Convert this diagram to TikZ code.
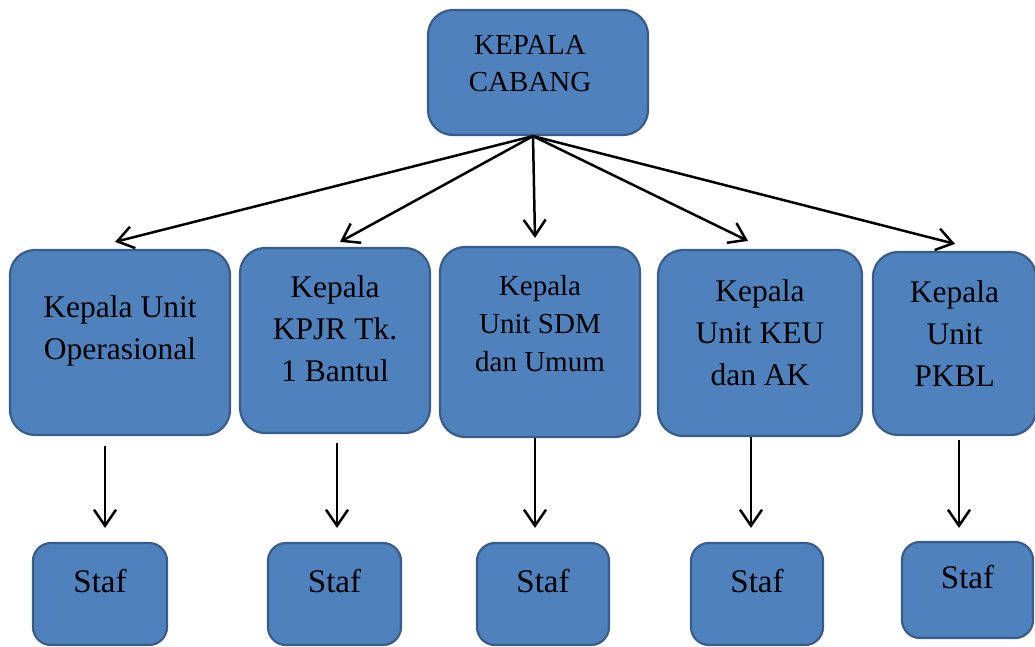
\documentclass[tikz,border=0pt]{standalone}
\usepackage{fontspec}
\setmainfont{Liberation Serif}
\usetikzlibrary{positioning, arrows.meta}
\definecolor{boxfill}{HTML}{4F81BD}
\definecolor{boxline}{HTML}{385D8A}

\begin{document}
\begin{tikzpicture}[x=1pt, y=-1pt,
    box/.style={draw=boxline, fill=boxfill, line width=2.2pt, rounded corners=25pt, inner sep=0pt},
    stafbox/.style={box, rounded corners=18pt},
    txt/.style={align=center, font=\fontsize{31.5}{42}\selectfont},
    txtsmall/.style={align=center, font=\fontsize{29}{38}\selectfont},
    arr/.style={-{Straight Barb[length=16pt,width=22pt]}, line width=2.5pt}]
    \useasboundingbox (0,0) rectangle (1035,646);

    % Pimpinan
    \node[box, minimum width=220pt, minimum height=125pt,
        label={[txtsmall, font=\fontsize{29}{37}\selectfont, xshift=-8pt, yshift=9pt]center:{KEPALA\\CABANG}}]
        (kc) at (538,72.5) {};

    % Unit
    \node[box, minimum width=220pt, minimum height=185pt,
        label={[txt, yshift=12pt]center:{Kepala Unit\\Operasional}}] (op) at (120,342.5) {};
    \node[box, minimum width=190pt, minimum height=185pt,
        label={[txt, yshift=12pt]center:{Kepala\\KPJR Tk.\\1 Bantul}}] (kpjr) at (335,340.5) {};
    \node[box, minimum width=200pt, minimum height=190pt,
        label={[txtsmall, yshift=18pt]center:{Kepala\\Unit SDM\\dan Umum}}] (sdm) at (540,342) {};
    \node[box, minimum width=204pt, minimum height=186pt,
        label={[txt, yshift=10pt]center:{Kepala\\Unit KEU\\dan AK}}] (keu) at (760,343) {};
    \node[box, minimum width=163pt, minimum height=183pt,
        label={[txt, yshift=10pt]center:{Kepala\\Unit\\PKBL}}] (pkbl) at (954.5,343.5) {};

    % Staf
    \node[stafbox, minimum width=134pt, minimum height=102pt,
        label={[txt, font=\fontsize{33}{42}\selectfont, yshift=13pt]center:Staf}] (st1) at (100,594) {};
    \node[stafbox, minimum width=133pt, minimum height=102pt,
        label={[txt, font=\fontsize{33}{42}\selectfont, yshift=13pt]center:Staf}] (st2) at (334.5,594) {};
    \node[stafbox, minimum width=132pt, minimum height=102pt,
        label={[txt, font=\fontsize{33}{42}\selectfont, yshift=13pt]center:Staf}] (st3) at (543,594) {};
    \node[stafbox, minimum width=132pt, minimum height=102pt,
        label={[txt, font=\fontsize{33}{42}\selectfont, yshift=13pt]center:Staf}] (st4) at (757,594) {};
    \node[stafbox, minimum width=131pt, minimum height=96pt,
        label={[txt, font=\fontsize{33}{42}\selectfont, yshift=13pt]center:Staf}] (st5) at (967.5,590) {};

    % Panah dari kepala cabang
    \draw[arr] ([xshift=-5pt]kc.south) -- ([xshift=-5pt, yshift=7pt]op.north);
    \draw[arr] ([xshift=-5pt]kc.south) -- ([xshift=5pt, yshift=5pt]kpjr.north);
    \draw[arr] ([xshift=-5pt]kc.south) -- ([xshift=-5pt, yshift=8pt]sdm.north);
    \draw[arr] ([xshift=-5pt]kc.south) -- ([xshift=-12pt, yshift=8pt]keu.north);
    \draw[arr] ([xshift=-5pt]kc.south) -- ([xshift=0.5pt, yshift=7pt]pkbl.north);

    % Panah ke staf
    \coordinate (d1) at (105,0);
    \coordinate (d2) at (337,0);
    \coordinate (d3) at (535,0);
    \coordinate (d4) at (751,0);
    \coordinate (d5) at (959,0);
    \draw[arr, shorten <=10pt, shorten >=14pt] (op.south -| d1) -- (st1.north -| d1);
    \draw[arr, shorten <=9pt, shorten >=14pt] (kpjr.south -| d2) -- (st2.north -| d2);
    \draw[arr, shorten >=14pt] (sdm.south -| d3) -- (st3.north -| d3);
    \draw[arr, shorten >=14pt] (keu.south -| d4) -- (st4.north -| d4);
    \draw[arr, shorten <=4pt, shorten >=13pt] (pkbl.south -| d5) -- (st5.north -| d5);
\end{tikzpicture}
\end{document}
